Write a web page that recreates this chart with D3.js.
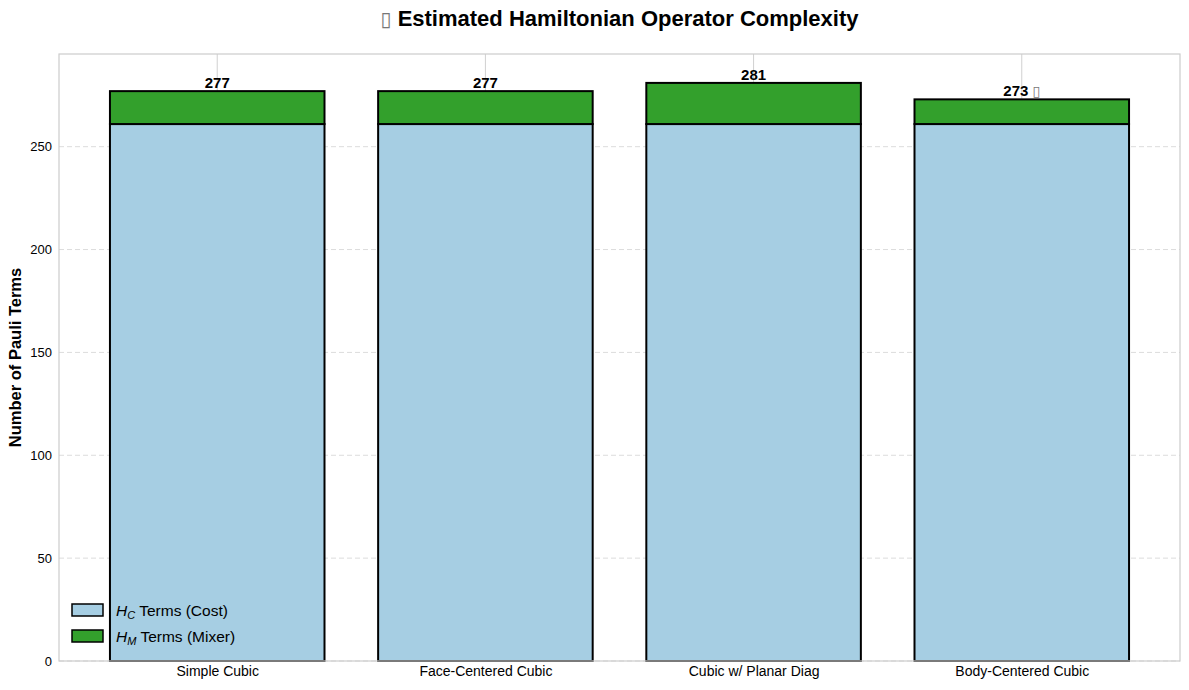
<!DOCTYPE html>
<html>
<head>
<meta charset="utf-8">
<script src="https://cdn.jsdelivr.net/npm/d3@7"></script>
<style>
  body { margin: 0; background: #fff; }
  svg { font-family: "Liberation Sans", Arial, sans-serif; }
</style>
</head>
<body>
<svg id="chart" width="1189" height="690"></svg>
<script>
// data
var lattices = ["Simple Cubic", "Face-Centered Cubic", "Cubic w/ Planar Diag", "Body-Centered Cubic"];
var costTerms = [261, 261, 261, 261];
var mixerTerms = [16, 16, 20, 12];
var totalLabels = ["277", "277", "281", "273"];
var labelMarks = ["", "", "", "\u25AF"];
var yTicks = [0, 50, 100, 150, 200, 250];

var svg = d3.select("#chart");
var margin = {left: 59, right: 9, top: 54, bottom: 29};
var W = 1189, H = 690;
var plotW = W - margin.left - margin.right,
    plotH = H - margin.top - margin.bottom;

var g = svg.append("g").attr("transform", "translate(" + margin.left + "," + margin.top + ")");

// x: positions like matplotlib (bar width 0.8, 5% margin)
var x = d3.scaleLinear().domain([-0.59, 3.59]).range([0, plotW]);
var barW = x(0.8) - x(0);
var maxTot = d3.max(costTerms.map(function(c, i) { return c + mixerTerms[i]; }));
var y = d3.scaleLinear().domain([0, maxTot * 1.05]).range([plotH, 0]);

// grid: vertical solid, horizontal dashed
g.selectAll("line.vgrid").data(lattices).enter().append("line")
  .attr("class", "vgrid")
  .attr("x1", function(d, i) { return x(i); }).attr("x2", function(d, i) { return x(i); })
  .attr("y1", 0).attr("y2", plotH)
  .attr("stroke", "#d0d0d0").attr("stroke-width", 1);

g.selectAll("line.hgrid").data(yTicks).enter().append("line")
  .attr("class", "hgrid")
  .attr("x1", 0).attr("x2", plotW)
  .attr("y1", function(d) { return y(d); }).attr("y2", function(d) { return y(d); })
  .attr("stroke", "#dcdcdc").attr("stroke-width", 1).attr("stroke-dasharray", "5,3");

// bars
var bars = g.selectAll("g.bar").data(lattices).enter().append("g").attr("class", "bar");
bars.append("rect")
  .attr("x", function(d, i) { return x(i) - barW / 2; })
  .attr("y", function(d, i) { return y(costTerms[i]); })
  .attr("width", barW)
  .attr("height", function(d, i) { return y(0) - y(costTerms[i]); })
  .attr("fill", "#a6cee3").attr("stroke", "#000").attr("stroke-width", 2);
bars.append("rect")
  .attr("x", function(d, i) { return x(i) - barW / 2; })
  .attr("y", function(d, i) { return y(costTerms[i] + mixerTerms[i]); })
  .attr("width", barW)
  .attr("height", function(d, i) { return y(costTerms[i]) - y(costTerms[i] + mixerTerms[i]); })
  .attr("fill", "#33a02c").attr("stroke", "#000").attr("stroke-width", 2);
var vl = bars.append("text")
  .attr("x", function(d, i) { return x(i); })
  .attr("y", function(d, i) { return y(costTerms[i] + mixerTerms[i]) - 3; })
  .attr("text-anchor", "middle")
  .attr("font-size", 15).attr("font-weight", "bold");
vl.append("tspan").text(function(d, i) { return totalLabels[i] + (labelMarks[i] ? " " : ""); });
vl.append("tspan").attr("font-weight", "normal").attr("fill", "#777")
  .attr("font-family", "DejaVu Sans").attr("font-size", 14)
  .text(function(d, i) { return labelMarks[i]; });

// spines
g.append("rect").attr("x", 0).attr("y", 0).attr("width", plotW).attr("height", plotH)
  .attr("fill", "none").attr("stroke", "#cccccc").attr("stroke-width", 1.2);

// axes
var yAxis = g.append("g").call(d3.axisLeft(y).tickValues(yTicks).tickSize(0).tickPadding(7));
yAxis.select(".domain").remove();
yAxis.selectAll("text").attr("font-size", 13).attr("fill", "#000")
  .attr("font-family", "Liberation Sans, Arial, sans-serif");

var xAxis = g.append("g").attr("transform", "translate(0," + plotH + ")")
  .call(d3.axisBottom(x).tickValues([0, 1, 2, 3]).tickFormat(function(d) { return lattices[d]; }).tickSize(0).tickPadding(5));
xAxis.select(".domain").remove();
xAxis.selectAll("text").attr("font-size", 14).attr("fill", "#000")
  .attr("font-family", "Liberation Sans, Arial, sans-serif");

// title and y label
var title = svg.append("text").attr("x", margin.left + plotW / 2).attr("y", 26)
  .attr("text-anchor", "middle").attr("font-size", 22).attr("font-weight", "bold");
title.append("tspan").attr("font-weight", "normal").attr("fill", "#777")
  .attr("font-family", "DejaVu Sans").attr("font-size", 20).text("\u25AF");
title.append("tspan").text(" Estimated Hamiltonian Operator Complexity");

svg.append("text")
  .attr("transform", "translate(21," + (margin.top + plotH / 2) + ") rotate(-90)")
  .attr("text-anchor", "middle").attr("font-size", 16.5).attr("font-weight", "bold")
  .text("Number of Pauli Terms");

// legend
var legendItems = [
  {sub: "C", label: " Terms (Cost)", color: "#a6cee3"},
  {sub: "M", label: " Terms (Mixer)", color: "#33a02c"}
];
var leg = g.selectAll("g.legend").data(legendItems).enter().append("g")
  .attr("class", "legend")
  .attr("transform", function(d, i) { return "translate(13," + (plotH - 57 + i * 26) + ")"; });
leg.append("rect").attr("width", 31).attr("height", 12)
  .attr("fill", function(d) { return d.color; }).attr("stroke", "#000").attr("stroke-width", 1.5);
var lt = leg.append("text").attr("x", 44).attr("y", 12).attr("font-size", 15.5);
lt.append("tspan").attr("font-style", "italic").text("H");
lt.append("tspan").attr("font-style", "italic").attr("font-size", 11).attr("dy", 3).text(function(d) { return d.sub; });
lt.append("tspan").attr("dy", -3).text(function(d) { return d.label; });
</script>
</body>
</html>
